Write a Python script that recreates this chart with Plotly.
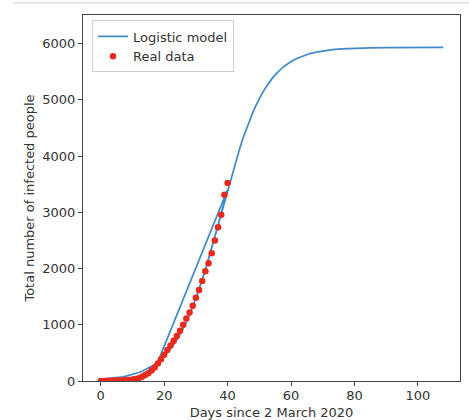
import plotly.graph_objects as go

# Real data: days since 2 March 2020 and total infected
data_days = list(range(0, 41))
data_values = [2, 2, 3, 4, 5, 7, 9, 12, 15, 20,
               26, 35, 50, 75, 105, 140, 185, 240, 310, 385,
               465, 550, 630, 715, 800, 896, 1000, 1110, 1220, 1340,
               1480, 1620, 1780, 1950, 2095, 2273, 2498, 2736, 2955, 3311,
               3520]

# Logistic model curve values
model_days = list(range(0, 61)) + [62, 64, 66, 68, 70, 73, 76, 80, 85, 90, 95, 100, 108]
model_values = [28, 33, 38, 43, 50, 57, 66, 76, 87, 100,
                114, 131, 151, 173, 198, 227, 260, 297, 339, 387,
                442, 503, 572, 648, 734, 830, 936, 1052, 1180, 1318,
                1468, 1629, 1801, 1982, 2172, 2370, 2573, 2780, 2988, 3198,
                3403, 3606, 3801, 3989, 4169, 4339, 4498, 4646, 4782, 4907,
                5021, 5125, 5218, 5303, 5378, 5445, 5505, 5558, 5604, 5646,
                5682, 5742, 5789, 5824, 5851, 5871, 5893, 5907, 5919, 5927,
                5931, 5933, 5934, 5935]

x_ticks = [0, 20, 40, 60, 80, 100]
y_ticks = [0, 1000, 2000, 3000, 4000, 5000, 6000]

# the model line is drawn over the data days, then over the prediction days from day 18
line_x, line_y = [], []
for d, v in zip(model_days, model_values):
    if d <= 40:
        line_x.append(d); line_y.append(v)
for d, v in zip(model_days, model_values):
    if d >= 18:
        line_x.append(d); line_y.append(v)

fig = go.Figure()
fig.add_trace(go.Scatter(x=line_x, y=line_y, mode="lines", name="Logistic model",
                         line=dict(color="#4189c9", width=1.7)))
fig.add_trace(go.Scatter(x=data_days, y=data_values, mode="markers", name="Real data",
                         marker=dict(color="#e8291c", size=6.5)))

axis_common = dict(showline=True, mirror=True, linecolor="#444", linewidth=1,
                   ticks="outside", ticklen=4, tickcolor="#444", showgrid=False,
                   zeroline=False,
                   tickfont=dict(family="DejaVu Sans", size=13, color="#333"))

fig.update_layout(
    width=469, height=420,
    margin=dict(l=83, r=9, t=15, b=39),
    paper_bgcolor="white", plot_bgcolor="white",
    font=dict(family="DejaVu Sans", size=13, color="#333"),
    xaxis=dict(range=[-5.6, 113.3], tickvals=x_ticks, ticklabelstandoff=-2,
               automargin=False,
               title=dict(text="Days since 2 March 2020",
                          font=dict(family="DejaVu Sans", size=13, color="#333")),
               **axis_common),
    yaxis=dict(range=[0, 6510], tickvals=y_ticks, automargin=True,
               title=dict(text="Total number of infected people", standoff=4,
                          font=dict(family="DejaVu Sans", size=13, color="#333")),
               **axis_common),
    legend=dict(x=0.024, y=0.985, xanchor="left", yanchor="top",
                bgcolor="rgba(255,255,255,0.85)", bordercolor="#d0d0d0", borderwidth=1,
                font=dict(family="DejaVu Sans", size=13, color="#333"),
                itemwidth=30, tracegroupgap=0),
    showlegend=True,
    shapes=[dict(type="line", xref="paper", yref="paper", x0=-0.186, x1=1.03,
                 y0=1.033, y1=1.033, line=dict(color="#cccccc", width=1))],
)

fig.write_html("out.html", config={"displayModeBar": False},
               post_script="document.body.style.margin='0px';")
